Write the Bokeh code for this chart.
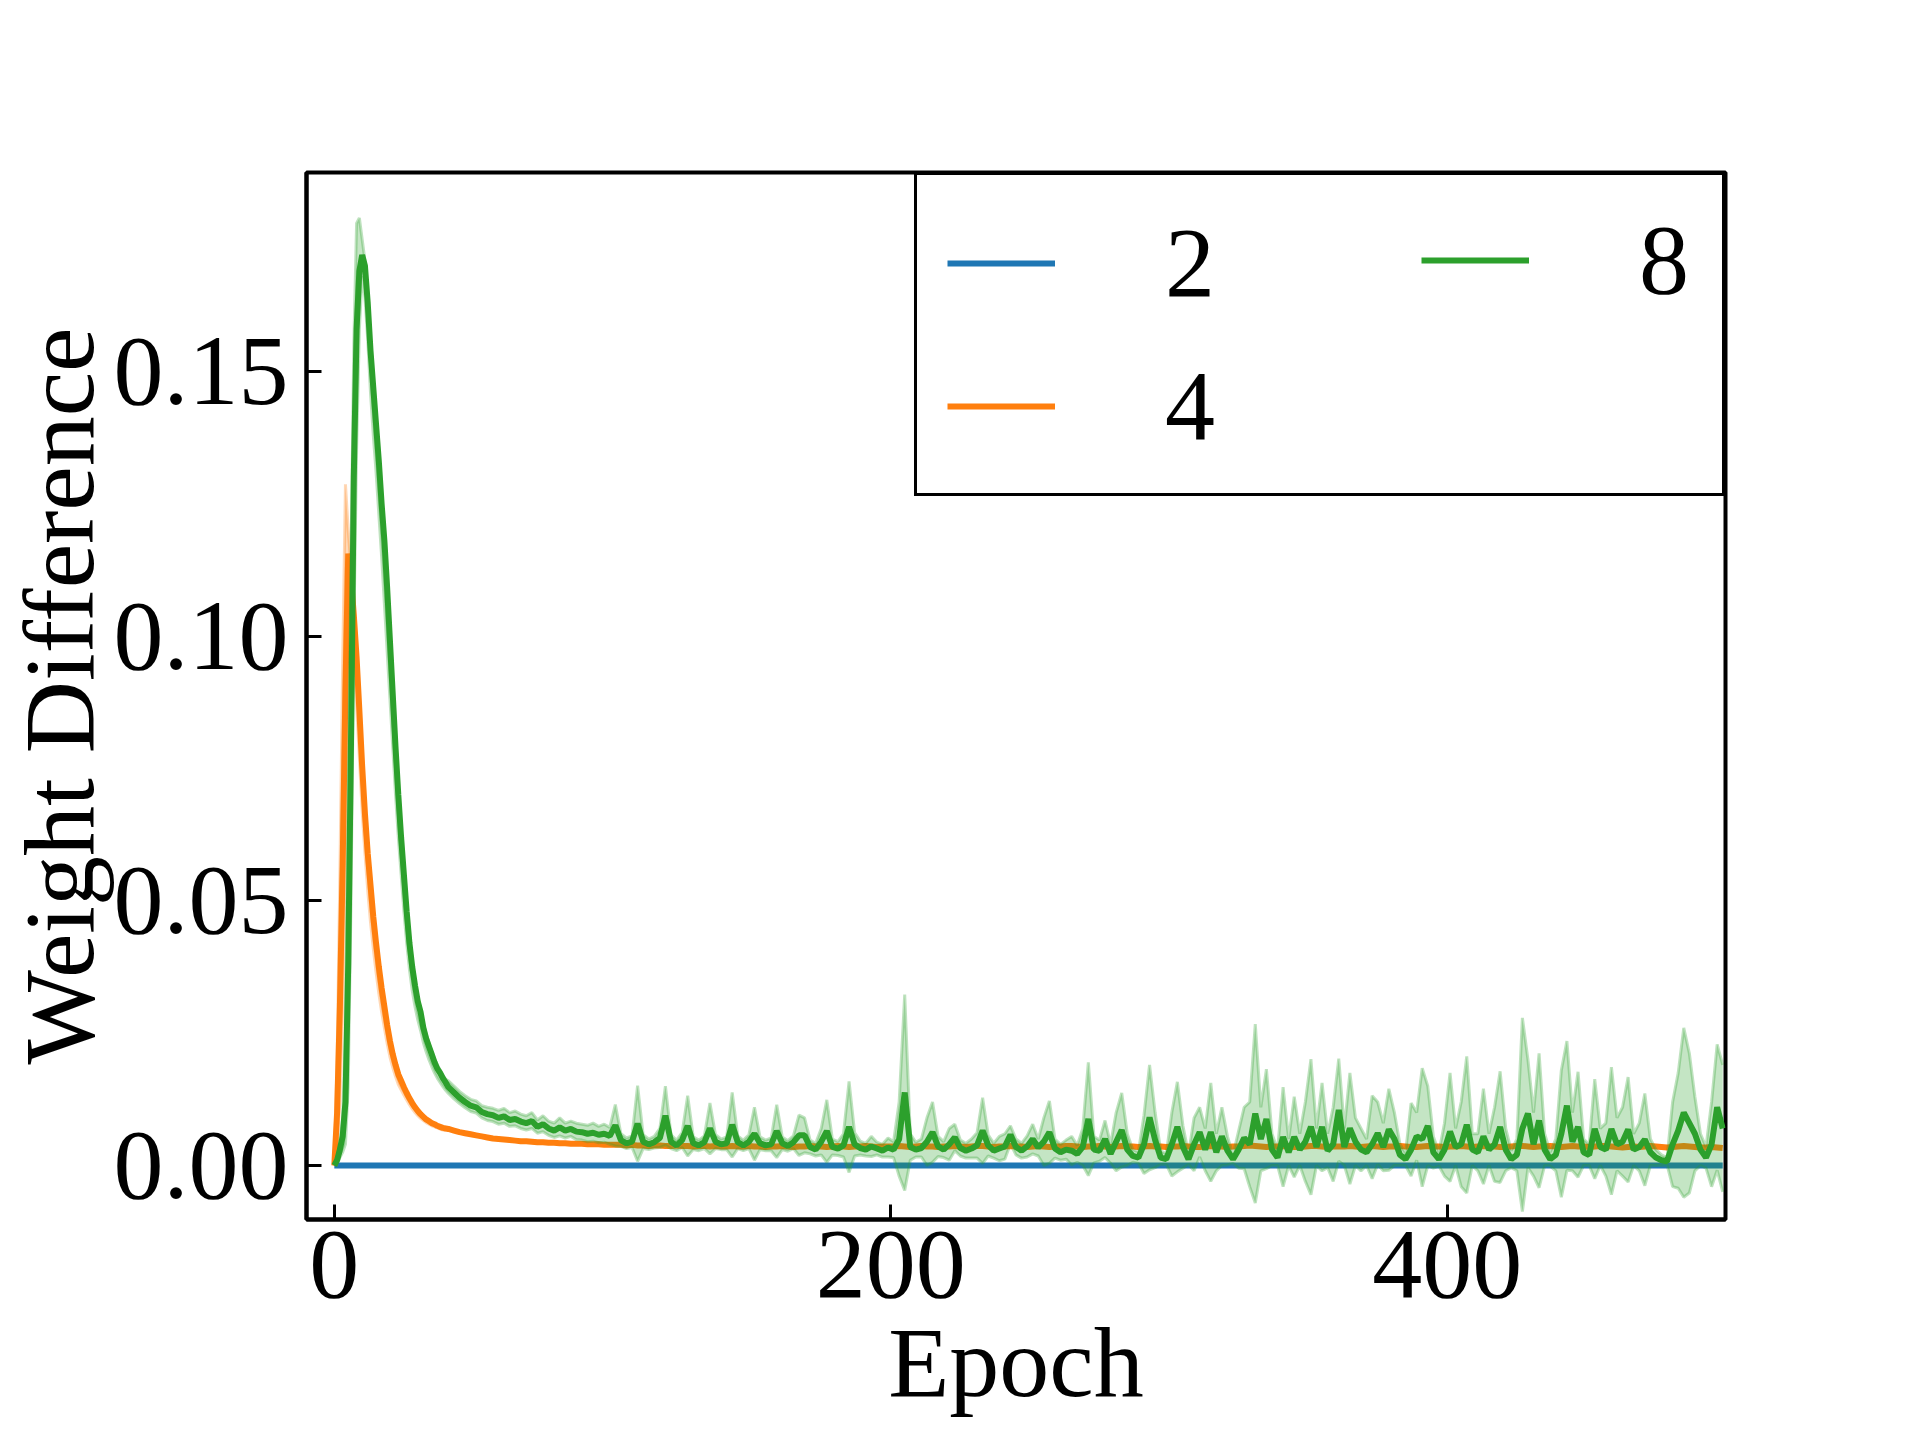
import numpy as np
from bokeh.plotting import figure
from bokeh.models import Range1d, FixedTicker, PrintfTickFormatter, Legend, LegendItem
from bokeh.embed import file_html
from bokeh.resources import INLINE

# ---------------- data (values in units of 1e-4) ----------------
UNIT = 1e-4
epochs_early = list(range(0, 41))
epochs_late = list(range(41, 500, 2))
epochs = epochs_early + epochs_late

# series "2": flat at zero
w2_mean = [0] * len(epochs)

# series "4"
w4_mean_early = [0, 100, 300, 570, 900, 1156, 1110, 1040, 960, 860, 755, 665, 590, 530, 470, 420,
                 375, 335, 300, 265, 235, 210, 190, 172, 160, 148, 137, 127, 118, 110, 103, 97,
                 92, 87, 84, 80, 78, 75, 73, 71, 70]
w4_hi_early = [0, 200, 550, 950, 1287, 1200, 1130, 1055, 975, 875, 770, 680, 603, 542, 481, 430,
               384, 343, 307, 272, 241, 216, 195, 177, 164, 152, 141, 131, 122, 113, 106, 100,
               95, 90, 86, 83, 80, 77, 75, 73, 72]
w4_lo_early = [0, 40, 120, 300, 600, 1080, 1050, 960, 870, 770, 670, 590, 520, 460, 410, 365,
               325, 290, 260, 230, 205, 185, 168, 153, 143, 133, 124, 115, 107, 100, 94, 89,
               85, 81, 78, 75, 73, 71, 69, 67, 66]
w4_mean_late = [69, 66, 63, 61, 59, 57, 55, 53, 51, 50, 49, 48, 47, 46, 46, 45, 44, 44, 43, 43,
                42, 42, 41, 41, 41, 40, 40, 40, 39, 39,
                39, 39, 38, 39, 38, 38, 37, 38, 38, 37, 37, 38, 37, 37, 36, 37, 37, 36, 37, 36,
                36, 37, 36, 36, 37, 36, 36, 35, 36, 36, 37, 36, 35, 36, 36, 37, 36, 36, 35, 36,
                37, 36, 35, 36, 36, 37, 36, 35, 36, 36,
                36, 37, 36, 35, 36, 37, 36, 36, 35, 36, 36, 37, 36, 35, 36, 37, 37, 36, 35, 36,
                36, 37, 36, 36, 35, 36, 37, 36, 35, 36, 36, 37, 37, 36, 35, 36, 36, 37, 36, 35,
                36, 37, 36, 36, 35, 36, 37, 36, 36, 35,
                36, 36, 37, 36, 35, 35, 36, 37, 36, 36, 35, 36, 36, 37, 38, 37, 36, 35, 36, 36,
                37, 36, 35, 35, 36, 37, 37, 36, 35, 36, 36, 36, 37, 36, 35, 36, 37, 36, 35, 36,
                36, 37, 36, 35, 35, 36, 37, 36, 36, 35,
                36, 36, 37, 36, 35, 36, 37, 36, 36, 35, 35, 36, 37, 37, 36, 35, 36, 36, 37, 36,
                35, 36, 37, 36, 36, 35, 36, 37, 37, 36, 35, 34, 35, 36, 35, 36, 37, 36, 35, 34,
                35, 36, 37, 36, 35, 34, 34, 35, 34, 33]

# series "8"
w8_mean_early = [0, 10, 30, 55, 120, 380, 800, 1300, 1580, 1690, 1720, 1700, 1630, 1540, 1470, 1400,
                 1330, 1250, 1180, 1090, 990, 890, 790, 700, 620, 550, 480, 420, 375, 340, 310,
                 290, 260, 240, 225, 210, 195, 183, 175, 165, 157]
w8_hi_early = [0, 15, 45, 90, 250, 700, 1150, 1550, 1780, 1790, 1750, 1710, 1640, 1555, 1480, 1410,
               1340, 1260, 1190, 1100, 1000, 900, 800, 710, 630, 560, 490, 430, 385, 350, 318,
               297, 268, 248, 232, 216, 201, 190, 181, 171, 163]
w8_lo_early = [0, 5, 15, 25, 40, 150, 500, 1000, 1350, 1580, 1680, 1640, 1560, 1460, 1380, 1310,
               1230, 1150, 1060, 970, 880, 790, 700, 620, 550, 480, 420, 370, 330, 300, 275,
               255, 232, 215, 200, 187, 175, 165, 157, 149, 142]
w8_mean_late = [148, 138, 128, 120, 113, 110, 101, 97, 95, 90, 93, 86, 88, 83, 80, 84, 73, 78, 70, 66,
                72, 66, 69, 64, 63, 60, 62, 58, 60, 56,
                76, 48, 42, 45, 79, 45, 40, 44, 52, 94, 45, 38, 48, 75, 42, 38, 44, 70, 45, 40,
                42, 77, 44, 38, 45, 60, 42, 38, 40, 65, 42, 37, 44, 57,
                57, 35, 30, 45, 65, 35, 32, 38, 73, 40, 33, 30, 36, 32, 28, 34, 30, 50, 138, 35,
                30, 33, 45, 63, 36, 30, 40, 53, 33, 28, 32, 38, 66, 38, 28, 32, 36, 58, 35, 28,
                36, 50, 34, 45, 63, 32, 25, 30, 28, 22, 35, 88, 30, 28, 50, 22, 45, 67, 30, 18,
                15, 40, 91, 48, 15, 12, 40, 73, 35, 12, 40, 63, 30, 63, 25, 55, 28, 12, 30, 52,
                40, 98, 50,
                88, 30, 15, 54, 25, 54, 30, 45, 73, 35, 73, 28, 40, 105, 35, 70, 45, 30, 25, 40,
                61, 35, 68, 50, 20, 12, 30, 55, 50, 75, 25, 12, 30, 64, 35, 40, 77, 30, 25, 55,
                30, 40, 73, 30, 12, 20, 70, 98, 40, 85, 30, 12, 20, 60, 113, 45, 73, 25, 20, 69,
                35, 30, 69, 40, 45, 68, 30, 35, 49, 25, 15, 10, 8, 40, 66, 100, 80, 60, 30, 15,
                40, 110, 70]
w8_hi_late = [160, 150, 140, 132, 125, 122, 113, 110, 108, 104, 108, 100, 103, 97, 94, 100, 86, 94, 84, 80,
              90, 80, 84, 80, 78, 76, 80, 74, 78, 72,
              115, 60, 52, 56, 151, 58, 50, 55, 70, 150, 58, 48, 62, 132, 54, 48, 56, 118, 58, 50,
              54, 138, 56, 48, 58, 110, 54, 48, 52, 115, 54, 47, 56, 95,
              90, 48, 42, 70, 124, 50, 45, 60, 159, 62, 46, 42, 55, 44, 40, 52, 45, 120, 323, 60,
              44, 50, 90, 120, 55, 45, 70, 78, 48, 42, 50, 62, 128, 58, 42, 55, 60, 75, 50, 42,
              56, 78, 50, 90, 122, 50, 40, 48, 55, 38, 70, 195, 55, 48, 85, 40, 100, 137, 60, 30,
              26, 95, 190, 100, 28, 22, 100, 158, 75, 22, 90, 110, 70, 156, 60, 110, 55, 20, 65, 110,
              120, 267, 110,
              182, 60, 30, 148, 50, 130, 60, 120, 201, 70, 156, 60, 110, 202, 70, 175, 90, 70, 50, 132,
              120, 80, 145, 100, 40, 24, 118, 100, 184, 150, 55, 25, 80, 175, 70, 120, 206, 60, 60, 145,
              60, 110, 178, 70, 28, 50, 279, 200, 100, 212, 60, 25, 50, 180, 235, 100, 177, 50, 40, 163,
              70, 80, 186, 90, 110, 167, 60, 80, 136, 50, 30, 20, 15, 120, 175, 260, 212, 130, 60, 35,
              120, 229, 190]
w8_lo_late = [136, 126, 117, 109, 102, 99, 90, 85, 83, 78, 80, 74, 75, 70, 67, 70, 61, 64, 57, 53,
              56, 52, 55, 49, 48, 45, 46, 43, 44, 40,
              37, 36, 32, 34, 8, 32, 30, 33, 34, 38, 32, 28, 34, 18, 30, 28, 32, 22, 32, 30,
              30, 16, 32, 28, 32, 10, 30, 28, 28, 15, 30, 27, 32, 19,
              24, 22, 18, 20, 6, 20, 19, 16, -13, 18, 20, 18, 17, 20, 16, 16, 15, -20, -47, 10,
              16, 16, 0, 6, 17, 15, 10, 28, 18, 14, 14, 14, 4, 18, 14, 9, 12, 41, 20, 14,
              16, 22, 18, 0, 4, 14, 10, 12, 1, 6, 0, -19, 5, 8, 15, 4, -10, -3, 0, 6,
              4, -15, -8, -4, 2, 2, -20, -12, -5, 2, -10, 16, -10, -30, -10, 0, 1, 4, -5, -6,
              -40, -71, -10,
              -6, 0, 0, -40, 0, -22, 0, -30, -55, 0, -10, -4, -30, 8, 0, -35, 0, -10, 0, -25,
              2, -10, -9, 0, 0, 0, -20, 10, -40, 0, -5, -1, -20, -30, 0, -40, -52, 0, -10, -35,
              0, -30, -32, -10, -4, -10, -87, -4, -20, -42, 0, -1, -10, -60, -9, -10, -22, 0, 0, -25,
              0, -20, -55, -10, -20, -31, 0, -10, -38, 0, 0, 0, 1, -40, -43, -60, -52, -10, 0, -5,
              -40, -9, -50]

legend_labels = ["2", "4", "8"]
x_ticks = [0, 200, 400]
y_ticks = [0.0, 0.05, 0.10, 0.15]

# ---------------- build arrays ----------------
x = np.array(epochs, dtype=float)
x4_band = np.array(epochs_early, dtype=float)
w2 = np.array(w2_mean, dtype=float) * UNIT
w4 = np.array(w4_mean_early + w4_mean_late, dtype=float) * UNIT
w4_hi = np.array(w4_hi_early, dtype=float) * UNIT
w4_lo = np.array(w4_lo_early, dtype=float) * UNIT
w8 = np.array(w8_mean_early + w8_mean_late, dtype=float) * UNIT
w8_hi = np.array(w8_hi_early + w8_hi_late, dtype=float) * UNIT
w8_lo = np.array(w8_lo_early + w8_lo_late, dtype=float) * UNIT

BLUE, ORANGE, GREEN = "#1f77b4", "#ff7f0e", "#2ca02c"
FONT = "Liberation Serif"
FS = "100px"
LW = 6

p = figure(width=1875, height=1424, output_backend="svg", toolbar_location=None,
           x_range=Range1d(-10, 500), y_range=Range1d(-0.0102, 0.1876),
           min_border_left=10, min_border_right=150, min_border_top=172, min_border_bottom=205)
p.background_fill_color = "white"
p.border_fill_color = "white"
p.outline_line_color = "black"
p.outline_line_width = 4
p.outline_line_alpha = 1.0
p.grid.visible = False

# series 2
r2 = p.line(x, w2, line_color=BLUE, line_width=LW)
# series 4
p.varea(x4_band, y1=w4_lo, y2=w4_hi, fill_color=ORANGE, fill_alpha=0.3)
p.line(x4_band, w4_lo, line_color=ORANGE, line_alpha=0.3, line_width=3)
p.line(x4_band, w4_hi, line_color=ORANGE, line_alpha=0.3, line_width=3)
r4 = p.line(x, w4, line_color=ORANGE, line_width=LW)
# series 8
p.varea(x, y1=w8_lo, y2=w8_hi, fill_color=GREEN, fill_alpha=0.28)
p.line(x, w8_lo, line_color=GREEN, line_alpha=0.3, line_width=3)
p.line(x, w8_hi, line_color=GREEN, line_alpha=0.3, line_width=3)
r8 = p.line(x, w8, line_color=GREEN, line_width=LW)

# axes
for ax in (p.xaxis, p.yaxis):
    ax.major_tick_in = 15
    ax.major_tick_out = 0
    ax.minor_tick_line_color = None
    ax.major_tick_line_width = 3
    ax.axis_line_width = 4
    ax.major_label_text_font = FONT
    ax.major_label_text_font_size = FS
    ax.major_label_text_color = "black"
    ax.axis_label_text_font = FONT
    ax.axis_label_text_font_size = FS
    ax.axis_label_text_font_style = "normal"
    ax.axis_label_text_color = "black"

p.xaxis.ticker = FixedTicker(ticks=x_ticks)
p.yaxis.ticker = FixedTicker(ticks=y_ticks)
p.yaxis.formatter = PrintfTickFormatter(format="%.2f")
p.xaxis.axis_label = "Epoch"
p.yaxis.axis_label = "Weight Difference"
p.xaxis.major_label_standoff = 12
p.xaxis.axis_label_standoff = 7
p.yaxis.major_label_standoff = 18
p.yaxis.axis_label_standoff = -4

common = dict(location="top_right", margin=0, padding=30, spacing=28,
              glyph_width=108, glyph_height=40, label_standoff=110,
              label_text_font=FONT, label_text_font_size=FS, label_text_color="black")
leg_a = Legend(items=[LegendItem(label=legend_labels[0], renderers=[r2]),
                      LegendItem(label=legend_labels[1], renderers=[r4])],
               label_width=527, border_line_color="black", border_line_width=3,
               border_line_alpha=1.0,
               background_fill_color="white", background_fill_alpha=1.0, **common)
leg_b = Legend(items=[LegendItem(label=legend_labels[2], renderers=[r8])],
               label_width=56, border_line_color="white", border_line_alpha=0.0,
               background_fill_alpha=0.0, **common)
p.add_layout(leg_a)
p.add_layout(leg_b)

open("out.html", "w").write(file_html(p, INLINE))
